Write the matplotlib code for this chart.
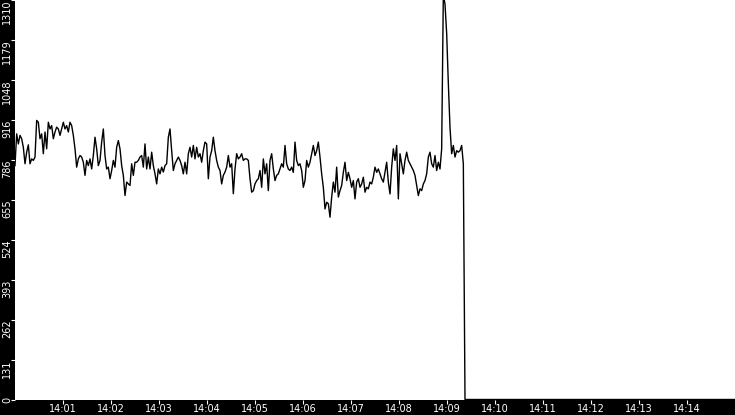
import numpy as np
import pandas as pd
import matplotlib
matplotlib.use("Agg")
import matplotlib.pyplot as plt
import matplotlib.dates as mdates

# readings, one every ~2.08 s starting at 14:00:00
start = pd.Timestamp("2024-01-01 14:00:00")
period_s = 125 / 60

seg_1 = [766, 870, 837, 865, 854, 826, 772, 810, 834, 772, 788, 783, 794, 914, 908, 854, 870, 805,
         876, 821, 908, 886, 897, 854, 876, 892, 886, 865, 886, 908, 886, 897, 876, 908, 897, 865,
         821, 761, 788, 799, 794, 777, 734, 783, 766, 788, 755, 799, 859, 821, 766, 783, 843, 886,
         799, 755, 761, 723, 750, 783, 761, 826, 848, 821, 766, 734, 668, 712, 706]
seg_2 = [701, 772, 734, 777, 777, 783, 794, 799, 761, 837, 755, 794, 755, 810, 766, 739, 706, 755,
         739, 761, 745, 766, 772, 859, 886, 815, 750, 772, 783, 794, 783, 766, 739, 777, 739, 805,
         826, 794, 832, 788, 826, 794, 805, 777, 815, 843, 837, 723, 794, 815, 859, 815, 783, 761,
         750, 706, 734, 745, 761, 799, 761, 772, 674, 755, 805, 788]
seg_3 = [794, 805, 783, 788, 788, 783, 723, 679, 684, 706, 717, 723, 750, 695, 788, 739, 772, 684,
         783, 805, 755, 717, 734, 739, 755, 772, 761, 832, 772, 755, 750, 761, 744, 843, 783, 766,
         772, 750, 695, 717, 783, 761, 777, 805, 832, 799, 815, 843, 794, 739, 695, 624, 646, 641,
         597, 663, 712, 679, 761, 663, 684, 701, 744, 777, 717, 744]
seg_4 = [723, 695, 717, 657, 712, 723, 695, 706, 728, 679, 695, 690, 712, 706, 728, 761, 744, 755,
         739, 723, 712, 744, 777, 712, 673, 761, 821, 783, 832, 657, 805, 772, 739, 783, 810, 783,
         772, 761, 750, 734, 701, 668, 690, 684, 706, 717, 739, 794, 810, 772, 761, 799, 750, 777,
         755, 821]
seg_5 = [1325, 1295, 1199, 1035, 891, 805, 832, 794, 815, 810, 815, 832, 772, 0]

tail_times = ["2024-01-01 14:15:00"]
tail_values = [0]

y_ticks = [0, 131, 262, 393, 524, 655, 786, 916, 1048, 1179, 1310]

values = seg_1 + seg_2 + seg_3 + seg_4 + seg_5
times = [start + pd.Timedelta(seconds=i * period_s) for i in range(len(values))]
times += [pd.Timestamp(t) for t in tail_times]
values += tail_values

plt.rcParams['font.family'] = ['DejaVu Sans']

W, H = 735, 415
fig = plt.figure(figsize=(W / 100, H / 100), dpi=100, facecolor='black')
ax = fig.add_axes([15 / W, 15.5 / H, 720 / W, 400 / H])
ax.set_facecolor('white')

ax.plot(times, values, color='black', lw=1.0)

ax.set_xlim(start, start + pd.Timedelta(minutes=15))
ax.set_ylim(0, 1310)

ax.xaxis.set_major_locator(mdates.MinuteLocator(byminute=range(1, 15)))
ax.xaxis.set_major_formatter(mdates.DateFormatter('%H:%M'))
ax.set_yticks(y_ticks)
ax.set_yticklabels([str(v) for v in y_ticks])

ax.tick_params(colors='white', labelcolor='white', length=2.9, width=0.8, labelsize=7)
ax.tick_params(axis='y', pad=-1.0)
ax.tick_params(axis='x', pad=0)
for lab in ax.get_yticklabels():
    lab.set_rotation(90)
    lab.set_va('top')
    lab.set_ha('right')
ax.get_yticklabels()[0].set_va('center')

for sp in ax.spines.values():
    sp.set_visible(False)

fig.savefig('out.png', dpi=100, facecolor='black')
